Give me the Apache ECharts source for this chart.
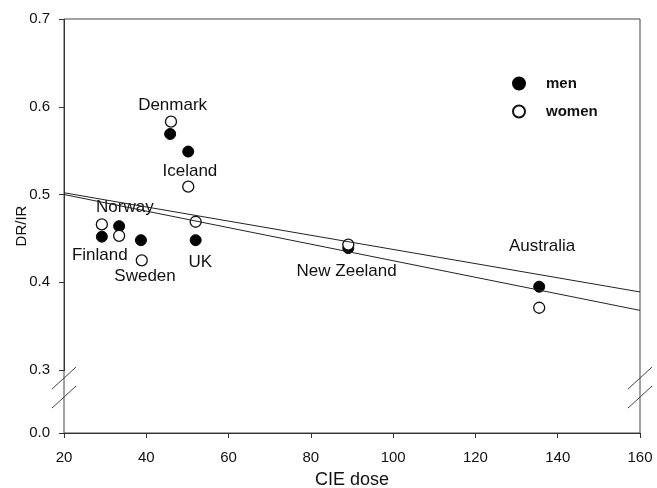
<!DOCTYPE html>
<html>
<head>
<meta charset="utf-8">
<script src="https://cdn.jsdelivr.net/npm/echarts@6/dist/echarts.min.js"></script>
<style>
  html, body { margin: 0; padding: 0; background: #fff; }
  #chart { width: 657px; height: 488px; }
</style>
</head>
<body>
<div id="chart"></div>
<script>
// CIE dose vs DR/IR
const menPoints = [
  [29.2, 0.452], [33.4, 0.464], [38.7, 0.448], [45.8, 0.569],
  [50.2, 0.549], [52.0, 0.448], [89.1, 0.439], [135.5, 0.395]
];
const womenPoints = [
  [29.2, 0.466], [33.4, 0.453], [38.9, 0.425], [46.0, 0.583],
  [50.2, 0.509], [52.0, 0.469], [89.1, 0.443], [135.5, 0.371]
];
// regression lines (end points)
const menLine = [[20, 0.502], [160, 0.389]];
const womenLine = [[20, 0.500], [160, 0.368]];
// country labels, anchored in data units
const countryLabels = [
  [46.4, 0.602, 'Denmark'], [50.6, 0.527, 'Iceland'], [34.8, 0.485, 'Norway'],
  [28.7, 0.431, 'Finland'], [39.7, 0.407, 'Sweden'], [53.1, 0.423, 'UK'],
  [88.7, 0.412, 'New Zeeland'], [136.2, 0.441, 'Australia']
];
const yBreak = { start: 0, end: 0.3 };

const chart = echarts.init(document.getElementById('chart'));
const font = 'Liberation Sans, Arial, sans-serif';

chart.setOption({
  animation: false,
  grid: { left: 64, right: 17, top: 19, bottom: 55, outerBoundsMode: 'none',
    show: true, borderColor: '#444', borderWidth: 1 },
  legend: {
    orient: 'vertical', left: 507, top: 71,
    itemWidth: 12, itemHeight: 12, itemGap: 13,
    textStyle: { fontFamily: font, fontSize: 15, fontWeight: 'bold', color: '#111', padding: [0, 0, 0, 16] },
    data: [{ name: 'men', icon: 'circle' }, { name: 'women', icon: 'circle' }]
  },
  xAxis: {
    type: 'value', min: 20, max: 160, interval: 20,
    name: 'CIE dose', nameLocation: 'middle', nameGap: 38, nameMoveOverlap: false,
    nameTextStyle: { fontFamily: font, fontSize: 18, color: '#111' },
    axisLine: { lineStyle: { color: '#333' } },
    axisTick: { length: 5, lineStyle: { color: '#333' } },
    axisLabel: { fontFamily: font, fontSize: 15, color: '#111', margin: 17 },
    splitLine: { show: false }
  },
  yAxis: {
    type: 'value', min: 0, max: 0.7, interval: 0.1,
    name: 'DR/IR', nameLocation: 'middle', nameGap: 35, nameMoveOverlap: false,
    nameTextStyle: { fontFamily: font, fontSize: 15, color: '#111' },
    axisLine: { show: true, lineStyle: { color: '#333' } },
    axisTick: { length: 5, lineStyle: { color: '#333' } },
    axisLabel: { fontFamily: font, fontSize: 15, color: '#111', margin: 14,
      formatter: v => v.toFixed(1) },
    splitLine: { show: false },
    breaks: [{ start: yBreak.start, end: yBreak.end, gap: '15.2%' }],
    breakArea: { show: false }
  },
  series: [
    { name: 'menLine', type: 'line', data: menLine, symbol: 'none', silent: true,
      lineStyle: { color: '#222', width: 1 } },
    { name: 'womenLine', type: 'line', data: womenLine, symbol: 'none', silent: true,
      lineStyle: { color: '#222', width: 1 } },
    { name: 'men', type: 'scatter', data: menPoints, symbolSize: 11,
      itemStyle: { color: '#000', borderColor: '#000', borderWidth: 1, opacity: 1 } },
    { name: 'women', type: 'scatter', data: womenPoints, symbolSize: 11,
      itemStyle: { color: '#fff', borderColor: '#111', borderWidth: 1.3, opacity: 1 } },
    { name: 'countries', type: 'scatter', symbolSize: 0, silent: true,
      itemStyle: { opacity: 1 },
      data: countryLabels.map(d => ({ value: [d[0], d[1]], name: d[2] })),
      label: { show: true, position: 'inside', formatter: p => p.name,
        fontFamily: font, fontSize: 17, color: '#111' } }
  ]
});

// "//" break marks on both vertical frame sides
const yTop = chart.convertToPixel({ yAxisIndex: 0 }, yBreak.end);
const xL = chart.convertToPixel({ xAxisIndex: 0 }, 20);
const xR = chart.convertToPixel({ xAxisIndex: 0 }, 160);
const marks = [];
[xL, xR].forEach(x => {
  [yTop + 8, yTop + 27].forEach(y => {
    marks.push({ type: 'line', shape: { x1: x - 12, y1: y + 11, x2: x + 12, y2: y - 11 },
      style: { stroke: '#444', lineWidth: 1 } });
  });
});
chart.setOption({ graphic: marks });
</script>
</body>
</html>
